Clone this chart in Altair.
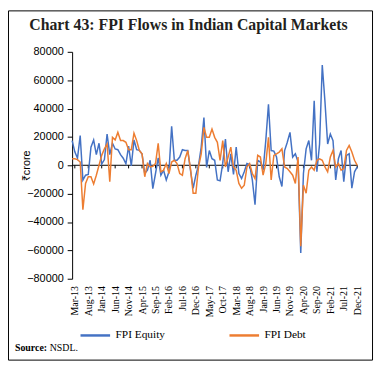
import altair as alt
import pandas as pd

# ---- data (Rs crore), monthly Feb-13 .. Dec-21 ----
mnames = ["Jan", "Feb", "Mar", "Apr", "May", "Jun", "Jul", "Aug", "Sep", "Oct", "Nov", "Dec"]
months = []
for k in range(107):
    t = 1 + k
    months.append(f"{mnames[t % 12]}-{13 + t // 12}")

equity = [17400, 9500, 5000, 21000, -10500, -7000, -6500, 12800, 17800, 7500,
          15500, 800, 4000, 22000, 7500, 15500, 11500, 11000, 7500, 5000,
          1000, 13500, -500, 17800, 11000, 10500, 8000, -5800, -3500, 3500,
          -16500, -5800, 5300, -7000, -3500, -10400, -4600, 27500, 3500, 3500,
          5800, 11000, 10400, 10400, -3500, -16200, -7000, 0, 12800, 33600,
          -1500, 10400, 4600, 3500, -10400, -11000, 1500, 18500, -4600, 8000,
          -6500, 12800, -5800, -9300, -4600, 1200, 500, -10400, -27800, 3500,
          2300, -3500, 17400, 43000, 10400, 10000, 5800, -8100, -15000, 10400,
          16200, 23200, 5800, 8100, 2300, -61900, -5800, 11600, 17400, 3500,
          45500, -4600, 15000, 70700, 45000, 15000, 22000, 17400, -10400, 4600,
          10400, -11600, 7000, 8100, -16200, -4600, -1200]

debt = [4600, 4600, 4000, 2300, -31300, -12800, -8100, -8100, -13200, -7000,
        0, 7000, 11600, 15000, -11600, 19700, 17900, 23200, 17400, 17400,
        16200, 11000, 11000, 22600, 17400, 10400, 8100, -8100, 1200, -1200,
        -700, 1200, 15500, -4600, -3500, 1200, -5800, 2300, 3500, 1200,
        -5800, -7000, 4600, 10400, -2300, -19700, -19700, -1200, 8100, 26700,
        19700, 19700, 25500, 19700, 16200, 3500, 17400, -1200, 5800, 12800,
        -1200, -3500, -12800, -16200, -14000, -1200, 1200, -5800, -9300, 7000,
        5800, -7000, 1200, 19700, -10400, 7000, 8100, 9300, 11600, -1200,
        -2300, -4600, -7000, -12800, 5800, -57000, -14000, -19700, -3500, -1200,
        -3500, 3500, 4600, 3500, -1200, -4600, 5800, 10400, -1200, 1200,
        -3500, -2300, 10400, 14000, 9300, 3500, 0]

series_names = ["FPI Equity", "FPI Debt"]
tick_labels = months[1::5]
y_ticks = list(range(-80000, 80001, 20000))

df = pd.DataFrame({
    "month": months * 2,
    "series": [series_names[0]] * len(months) + [series_names[1]] * len(months),
    "value": equity + debt,
})

BLUE = "#4472C4"
ORANGE = "#ED7D31"
SERIF = "Liberation Serif"
SANS = "Liberation Sans"
W, H = 289, 230

x_axis = alt.Axis(values=tick_labels, labelAngle=270, title=None, domain=False,
                  ticks=False, labelFont=SERIF, labelFontSize=10,
                  labelColor="black", labelPadding=7, labelOverlap=False)
x_scale = alt.Scale(type="point", padding=0)

y_scale = alt.Scale(domain=[-80000, 80000], nice=False)
y_axis = alt.Axis(values=y_ticks, format="d", grid=False, title="₹crore",
                  labelOverlap=False, tickCount=9,
                  domainColor="black", tickColor="black", tickSize=5,
                  labelFont=SANS, labelFontSize=11, labelColor="black",
                  labelPadding=4, titleFont=SANS, titleFontSize=11,
                  titleFontWeight="normal", titleColor="black",
                  titleAngle=270, titleX=-46, titleY=115,
                  titleAlign="center", titleBaseline="middle")

lines = alt.Chart(df).mark_line(strokeWidth=1.5).encode(
    x=alt.X("month:O", sort=months, scale=x_scale, axis=x_axis),
    y=alt.Y("value:Q", scale=y_scale, axis=y_axis),
    color=alt.Color(
        "series:N",
        scale=alt.Scale(domain=series_names, range=[BLUE, ORANGE]),
        legend=alt.Legend(orient="none", legendX=7, legendY=271,
                          direction="horizontal", title=None,
                          symbolType="stroke", symbolStrokeWidth=2.5,
                          symbolSize=900, labelFont=SERIF, labelFontSize=11.5,
                          labelColor="black", columnPadding=59, labelOffset=4,
                          padding=0),
    ),
)

zero = alt.Chart(alt.Data(values=[{}])).mark_rule(color="black", strokeWidth=1).encode(
    y=alt.YDatum(0, scale=y_scale, axis=y_axis)
)

zticks = alt.Chart(pd.DataFrame({"month": tick_labels})).mark_rule(
    color="black", strokeWidth=1
).encode(
    x=alt.X("month:O", sort=months, scale=x_scale, axis=x_axis),
    y=alt.YDatum(0, scale=y_scale, axis=y_axis),
    y2=alt.datum(-2200),
)

one = alt.Data(values=[{}])
border = alt.Chart(one).mark_rect(fill="transparent", stroke="black", strokeWidth=1).encode(
    x=alt.value(-64.5), x2=alt.value(304.5), y=alt.value(-41.5), y2=alt.value(312.5)
)

title = alt.Chart(one).mark_text(
    text="Chart 43: FPI Flows in Indian Capital Markets", font=SERIF, fontSize=16,
    fontWeight="bold", color="#231F20", align="center", baseline="alphabetic"
).encode(x=alt.value(118), y=alt.value(-22))

src1 = alt.Chart(one).mark_text(
    text="Source:", font=SERIF, fontSize=10, fontWeight="bold", color="black",
    align="left", baseline="alphabetic"
).encode(x=alt.value(-58), y=alt.value(303))

src2 = alt.Chart(one).mark_text(
    text="NSDL.", font=SERIF, fontSize=10, color="black",
    align="left", baseline="alphabetic"
).encode(x=alt.value(-22.7), y=alt.value(303))

chart = alt.layer(zero, zticks, lines, border, title, src1, src2).properties(
    width=W, height=H,
    padding={"left": 65, "top": 42, "right": 17, "bottom": 83},
    autosize=alt.AutoSizeParams(type="none"),
).configure_view(stroke="transparent")

chart.save("out.html", embed_options={"renderer": "svg", "actions": False})
